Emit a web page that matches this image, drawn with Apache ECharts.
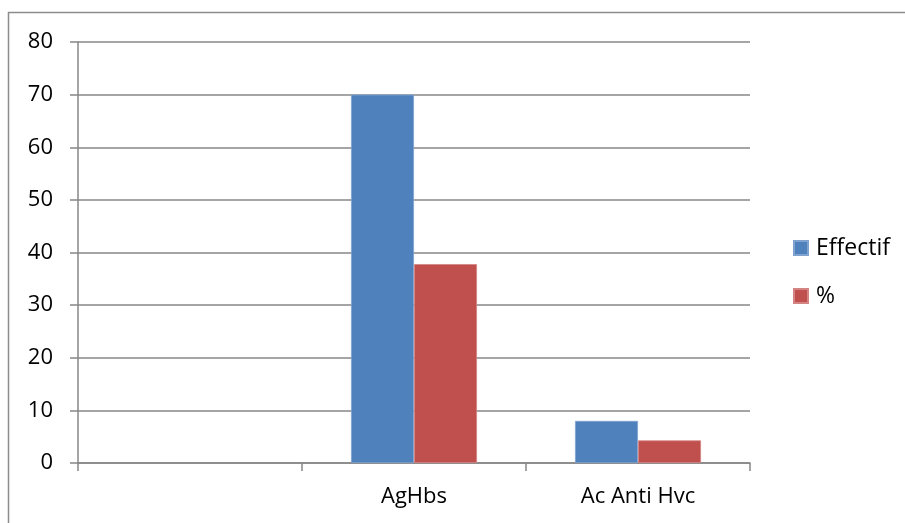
<!DOCTYPE html>
<html>
<head>
<meta charset="utf-8">
<script src="https://cdn.jsdelivr.net/npm/echarts@6/dist/echarts.min.js"></script>
<style>
  html, body { margin: 0; padding: 0; background: #fff; }
  #chart { width: 905px; height: 523px; }
</style>
</head>
<body>
<div id="chart"></div>
<script>
// Categories on the x axis (first slot is left empty)
const categories = ['', 'AgHbs', 'Ac Anti Hvc'];
// Number of cases
const effectif = [null, 70, 8];
// Share in percent
const pourcentage = [null, 37.8, 4.3];
// Value axis settings
const yMin = 0;
const yMax = 80;
const yStep = 10;

const FONT = '"Open Sans", "Liberation Sans", sans-serif';
const GRID_COLOR = '#878787';

const chart = echarts.init(document.getElementById('chart'), null, { renderer: 'canvas' });

chart.setOption({
  animation: false,
  backgroundColor: '#ffffff',
  textStyle: { fontFamily: FONT },
  graphic: [{
    type: 'rect',
    shape: { x: 8.5, y: 12.5, width: 1200, height: 1200 },
    style: { fill: 'none', stroke: '#8c8c8c', lineWidth: 1.5 },
    silent: true
  }],
  grid: { left: 78, right: 155, top: 42, bottom: 60, containLabel: false },
  legend: {
    orient: 'vertical',
    left: 788,
    top: 231,
    itemWidth: 14,
    itemHeight: 14,
    itemGap: 24,
    icon: 'rect',
    textStyle: { fontFamily: FONT, fontSize: 23, color: '#000', lineHeight: 24, padding: [0, 0, 0, 3] },
    data: ['Effectif', '%']
  },
  xAxis: {
    type: 'category',
    data: categories,
    boundaryGap: true,
    axisLine: { show: true, lineStyle: { color: GRID_COLOR, width: 1.5 } },
    axisTick: { show: true, alignWithLabel: false, length: 8, lineStyle: { color: GRID_COLOR, width: 1.5 } },
    axisLabel: { color: '#000', fontFamily: FONT, fontSize: 22, margin: 23 },
    splitLine: { show: false }
  },
  yAxis: {
    type: 'value',
    min: yMin,
    max: yMax,
    interval: yStep,
    axisLine: { show: true, lineStyle: { color: GRID_COLOR, width: 1.5 } },
    axisTick: { show: true, length: 8, lineStyle: { color: GRID_COLOR, width: 1.5 } },
    axisLabel: { color: '#000', fontFamily: FONT, fontSize: 22, margin: 25 },
    splitLine: { show: true, lineStyle: { color: GRID_COLOR, width: 1.5 } }
  },
  series: [
    {
      name: 'Effectif',
      type: 'bar',
      data: effectif,
      barWidth: 63,
      barGap: '0%',
      itemStyle: { color: '#4F81BD', borderColor: '#7fa2cf', borderWidth: 0.8 }
    },
    {
      name: '%',
      type: 'bar',
      data: pourcentage,
      barWidth: 63,
      barGap: '0%',
      itemStyle: { color: '#C0504D', borderColor: '#d48583', borderWidth: 0.8 }
    }
  ]
});
</script>
</body>
</html>
